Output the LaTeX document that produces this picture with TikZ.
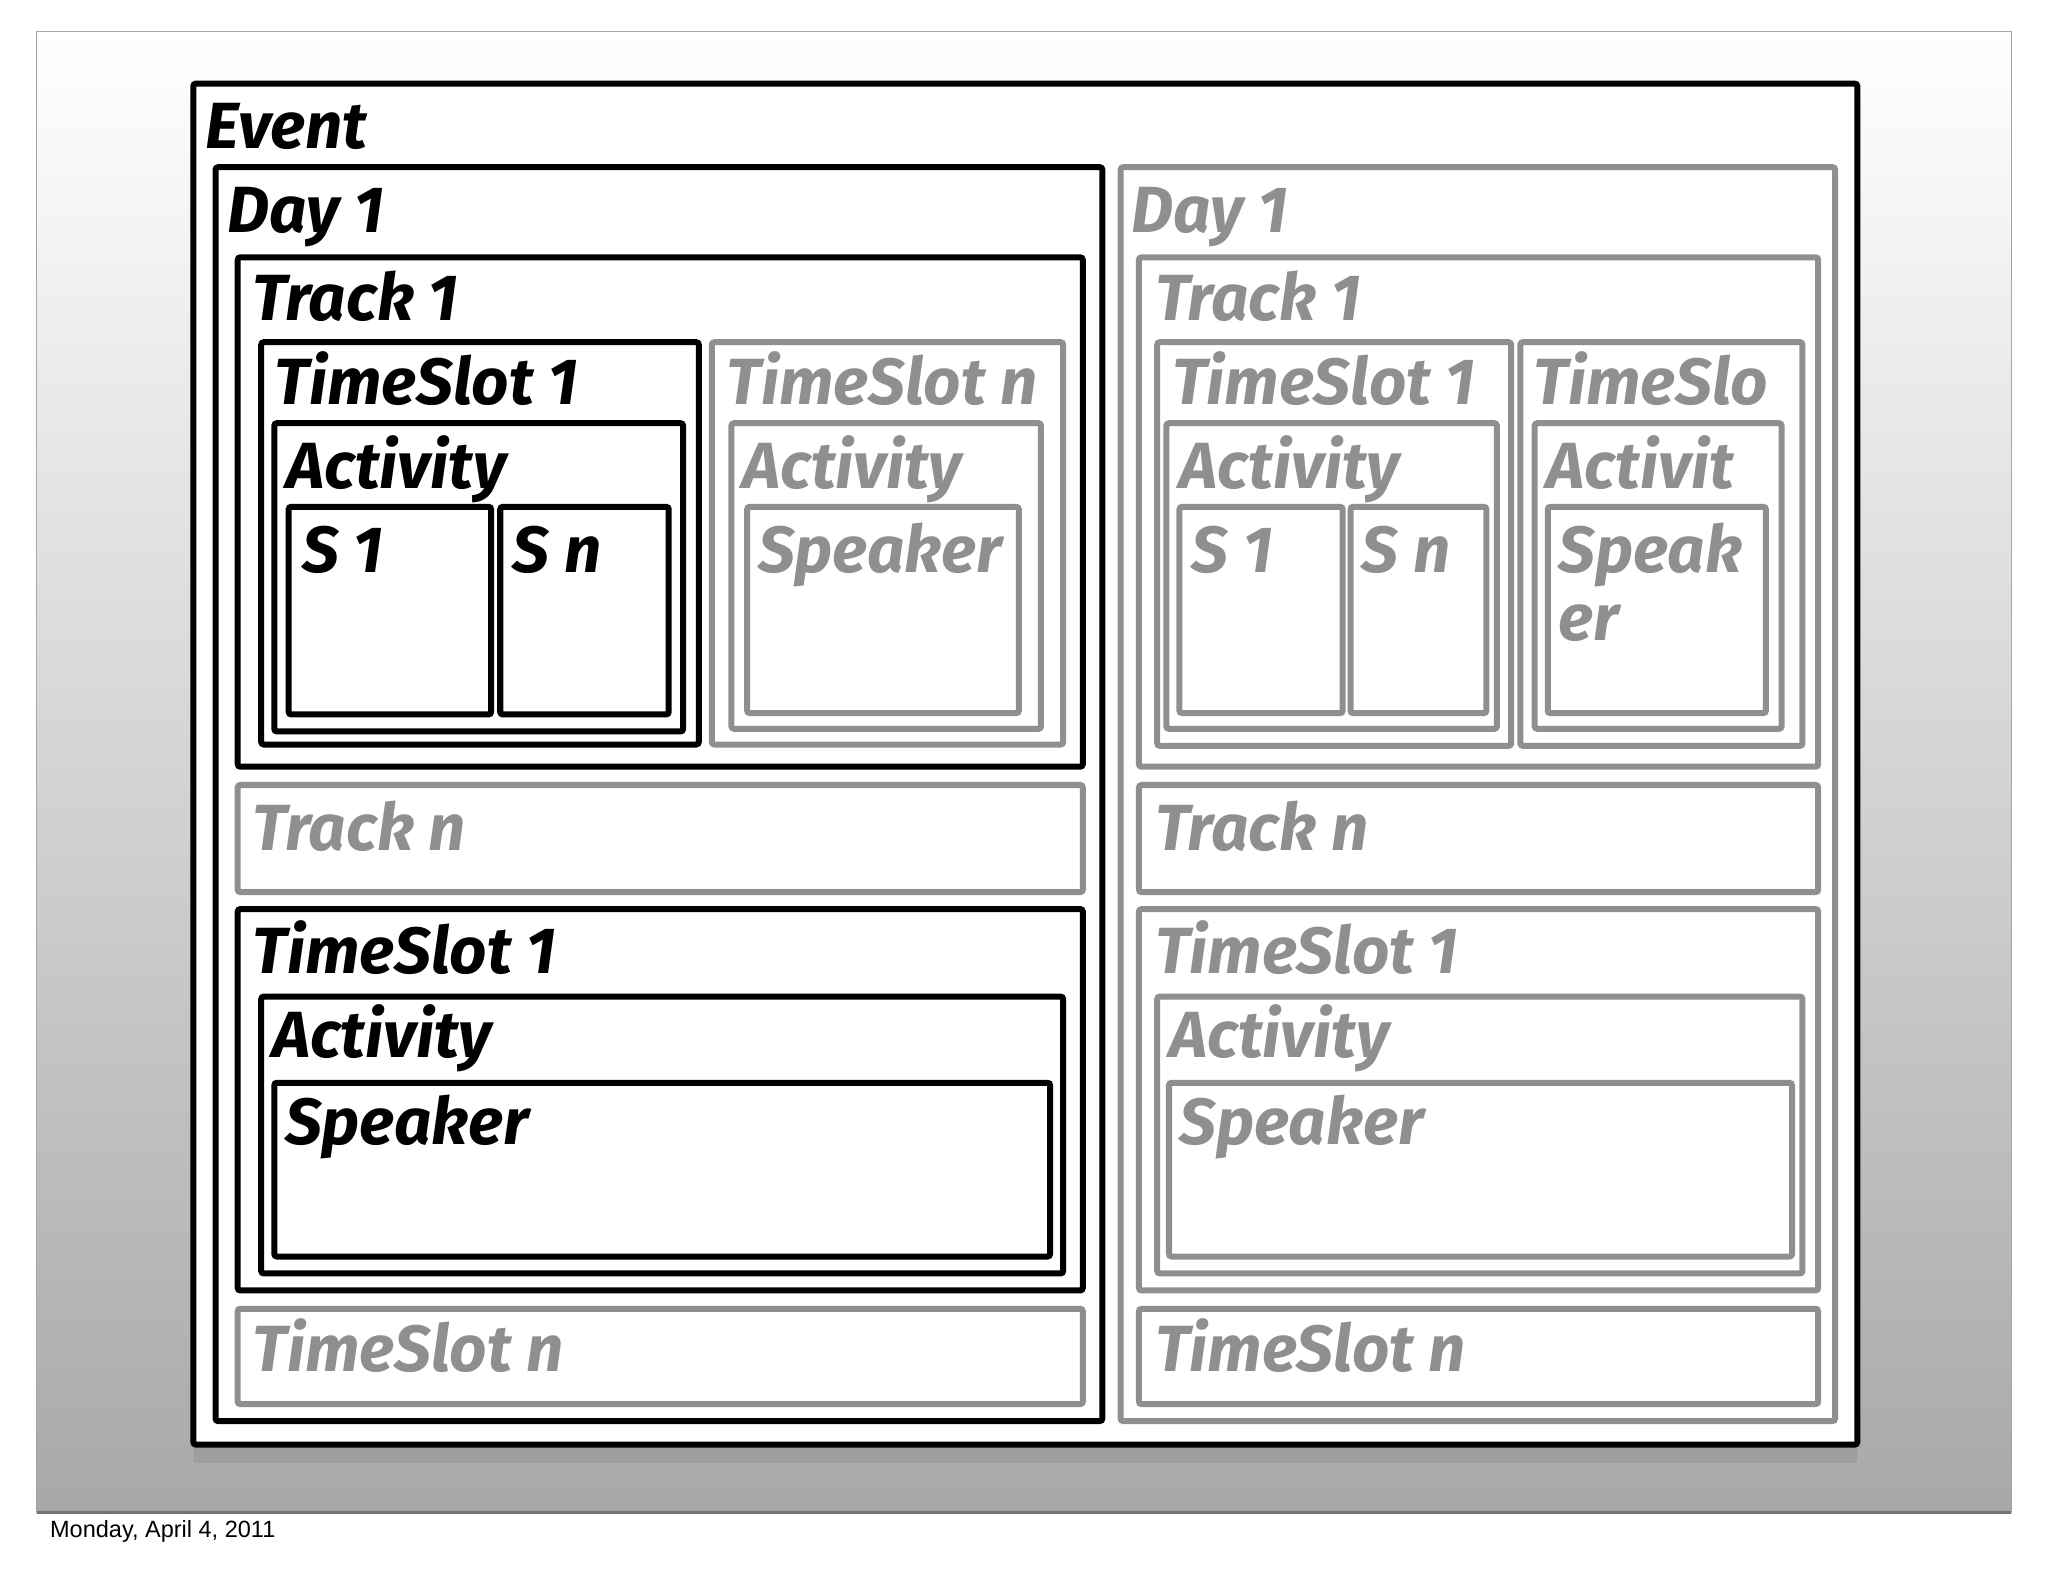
\documentclass[tikz,border=0pt]{standalone}
\usepackage{fontspec}
\setmainfont{Fira Sans}
\newfontfamily\datefont{Liberation Sans}
\usetikzlibrary{shadows}
\definecolor{gr}{RGB}{143,143,143}
\definecolor{bgbot}{RGB}{168,168,168}
\tikzset{
  blk/.style={draw=black, line width=2.3pt, rounded corners=1pt},
  gry/.style={draw=gr, line width=2.3pt, rounded corners=1pt},
  lab/.style={anchor=base west, inner sep=0pt, font=\fontsize{25}{25}\selectfont\bfseries\itshape},
  lblk/.style={lab, text=black},
  lgry/.style={lab, text=gr},
}
\begin{document}
\begin{tikzpicture}[x=0.5pt,y=-0.5pt]
\useasboundingbox (0,0) rectangle (1568,1211);
\fill[white] (0,0) rectangle (1568,1211);
% slide background
\shade[top color=white, bottom color=bgbot] (28,24) rectangle (1540,1158);
\draw[gray!70, line width=0.5pt] (28,24) rectangle (1540,1158);
\draw[black!55, line width=1pt] (28,1158) -- (1540,1158);
\node[anchor=base west, inner sep=0pt, font=\datefont\fontsize{9}{9}\selectfont] (date) at (38,1177) {Monday, April 4, 2011};
% Event
\draw[blk, fill=white, drop shadow={shadow xshift=0pt, shadow yshift=-7pt, opacity=0.3}] (148,64) rectangle (1422,1106);
\node[lblk] (event) at (157,114) {Event};
% ---------- left day ----------
\draw[blk] (165,128) rectangle (844,1088);
\node[lblk] (lday) at (174,178) {Day 1};
\draw[blk] (182,197) rectangle (829,587);
\node[lblk] (ltrack1) at (193,245) {Track 1};
\draw[blk] (200,262) rectangle (535,570);
\node[lblk] (lts1) at (210,310) {TimeSlot 1};
\draw[blk] (210,324) rectangle (523,560);
\node[lblk] (lact1) at (219,374) {Activity};
\draw[blk] (221,388) rectangle (376,547);
\node[lblk] (ls1) at (231,438) {S 1};
\draw[blk] (383,388) rectangle (512,547);
\node[lblk] (lsn) at (392,438) {S n};
\draw[gry] (545,262) rectangle (814,570);
\node[lgry] (ltsn) at (556,310) {TimeSlot n};
\draw[gry] (560,324) rectangle (797,558);
\node[lgry] (lact2) at (568,374) {Activity};
\draw[gry] (572,388) rectangle (780,546);
\node[lgry] (lspk2) at (580,438) {Speaker};
\draw[gry] (182,601) rectangle (829,683);
\node[lgry] (ltrackn) at (193,651) {Track n};
\draw[blk] (182,696) rectangle (829,988);
\node[lblk] (lts1b) at (193,745) {TimeSlot 1};
\draw[blk] (200,763) rectangle (814,975);
\node[lblk] (lact3) at (208,810) {Activity};
\draw[blk] (210,829) rectangle (804,962);
\node[lblk] (lspk3) at (218,876) {Speaker};
\draw[gry] (182,1002) rectangle (829,1075);
\node[lgry] (ltsnb) at (193,1050) {TimeSlot n};
% ---------- right day ----------
\draw[gry] (858,128) rectangle (1405,1088);
\node[lgry] (rday) at (866,178) {Day 1};
\draw[gry] (872,197) rectangle (1392,587);
\node[lgry] (rtrack1) at (884,245) {Track 1};
\draw[gry] (886,262) rectangle (1157,571);
\node[lgry] (rts1) at (897,310) {TimeSlot 1};
\draw[gry] (893,324) rectangle (1146,558);
\node[lgry] (ract1) at (903,374) {Activity};
\draw[gry] (903,388) rectangle (1028,546);
\node[lgry] (rs1) at (912,438) {S 1};
\draw[gry] (1034,388) rectangle (1138,546);
\node[lgry] (rsn) at (1042,438) {S n};
\draw[gry] (1164,262) rectangle (1380,571);
\node[lgry] (rtsn) at (1174,310) {TimeSlo};
\draw[gry] (1175,324) rectangle (1364,558);
\node[lgry] (ract2) at (1184,374) {Activit};
\draw[gry] (1185,388) rectangle (1352,546);
\node[lgry] (rspk2a) at (1193,438) {Speak};
\node[lgry] (rspk2b) at (1193,490) {er};
\draw[gry] (872,601) rectangle (1392,683);
\node[lgry] (rtrackn) at (884,651) {Track n};
\draw[gry] (872,696) rectangle (1392,988);
\node[lgry] (rts1b) at (884,745) {TimeSlot 1};
\draw[gry] (886,763) rectangle (1380,975);
\node[lgry] (ract3) at (895,810) {Activity};
\draw[gry] (895,829) rectangle (1372,962);
\node[lgry] (rspk3) at (903,876) {Speaker};
\draw[gry] (872,1002) rectangle (1392,1075);
\node[lgry] (rtsnb) at (884,1050) {TimeSlot n};
\end{tikzpicture}
\end{document}
